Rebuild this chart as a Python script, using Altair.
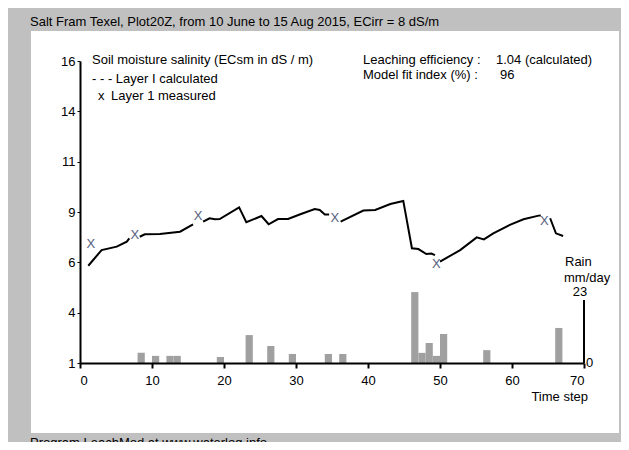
import altair as alt
import pandas as pd

FONT = "Liberation Sans"

TITLE = "Salt Fram Texel, Plot20Z, from 10 June to 15 Aug 2015, ECirr = 8 dS/m"
FOOTER = "Program LeachMod at www.waterlog.info"

# calculated soil-moisture salinity (ECsm, dS/m), drawn in segments between measurements
calc_seg = [1] * 5 + [2] * 5 + [3] * 15 + [4] * 10 + [5] * 9 + [6] * 3
calc_t = [1.15, 3.0, 5.1, 6.5, 6.85,
          8.3, 9.0, 11.1, 13.9, 15.7,
          17.1, 18.0, 18.75, 19.4, 22.1, 23.1, 25.2, 26.2, 27.5, 28.9, 30.6, 32.6, 33.3, 34.0, 34.6,
          36.2, 39.35, 41.0, 43.1, 44.9, 46.1, 47.0, 48.1, 48.8, 49.3,
          50.0, 52.8, 55.1, 56.1, 57.4, 59.7, 61.6, 63.7, 64.0,
          65.3, 66.1, 67.1]
calc_v = [5.83, 6.61, 6.78, 7.03, 7.19,
          7.27, 7.39, 7.41, 7.52, 7.89,
          8.02, 8.19, 8.14, 8.15, 8.73, 7.99, 8.30, 7.89, 8.15, 8.15, 8.39, 8.65, 8.60, 8.38, 8.38,
          8.02, 8.57, 8.60, 8.90, 9.05, 6.70, 6.66, 6.41, 6.44, 6.36,
          6.03, 6.61, 7.24, 7.14, 7.44, 7.86, 8.14, 8.32, 8.33,
          8.19, 7.44, 7.31]

# measured values (X marks)
meas_t = [1.5, 7.6, 16.4, 35.4, 49.5, 64.5]
meas_v = [6.9, 7.35, 8.3, 8.2, 5.92, 8.05]

# rain (mm/day) per time step
rain_t = [8, 10, 12, 13, 19, 23, 26, 29, 34, 36, 46, 47, 48, 49, 50, 56, 66]
rain_mm = [3.7, 2.6, 2.6, 2.6, 2.2, 10.2, 6.2, 3.3, 3.3, 3.3, 25.9, 3.7, 7.3, 2.6, 10.6, 4.7, 12.8]

x_ticks = [0, 10, 20, 30, 40, 50, 60, 70]
y_ticks = [1, 3.5, 6, 8.5, 11, 13.5, 16]
rain_axis = [0, 23]

calc_df = pd.DataFrame({"t": calc_t, "v": calc_v, "seg": calc_seg})
meas_df = pd.DataFrame({"t": meas_t, "v": meas_v})
rain_df = pd.DataFrame({"t": rain_t, "mm": rain_mm})
rain_df["t1"] = rain_df["t"] + 1
rain_df["base"] = 0
raxis_df = pd.DataFrame({"t": [70], "r0": [rain_axis[0]], "r1": [rain_axis[1]]})

xs = alt.Scale(domain=[0, 70], nice=False, zero=False)
ys = alt.Scale(domain=[1, 16], nice=False, zero=False)
rs = alt.Scale(domain=[0, 110.3], nice=False)

one = pd.DataFrame({"a": [0]})


def label(txt, x, y, align="left", size=13, color="black"):
    return alt.Chart(one).mark_text(
        text=txt, align=align, baseline="middle", fontSize=size, color=color, font=FONT
    ).encode(x=alt.value(x), y=alt.value(y))


panel = alt.Chart(one).mark_rect(color="white").encode(
    x=alt.value(-49), x2=alt.value(539), y=alt.value(-30), y2=alt.value(372)
)

bars = alt.Chart(rain_df).mark_rect(color="#a0a0a0").encode(
    x=alt.X("t:Q", scale=xs, axis=None),
    x2="t1:Q",
    y=alt.Y("mm:Q", scale=rs, axis=None),
    y2="base:Q",
)

line = alt.Chart(calc_df).mark_line(color="black", strokeWidth=2).encode(
    x=alt.X("t:Q", scale=xs, axis=alt.Axis(
        values=x_ticks, title=None, grid=False, domainColor="black", domainWidth=2,
        tickColor="black", tickSize=5, tickWidth=2, labelPadding=6, labelFontSize=13,
        labelColor="black", labelFont=FONT, format="d", zindex=2)),
    y=alt.Y("v:Q", scale=ys, axis=alt.Axis(
        values=y_ticks, title=None, grid=False, domainColor="black", domainWidth=2,
        tickColor="black", tickSize=3, tickWidth=1, labelPadding=2, labelFontSize=13,
        labelColor="black", labelFont=FONT, labelExpr="round(datum.value)", zindex=2)),
    detail="seg:N",
)

marks = alt.Chart(meas_df).mark_text(
    text="X", fontSize=13, color="#56607e", font=FONT, baseline="middle"
).encode(
    x=alt.X("t:Q", scale=xs, axis=None),
    y=alt.Y("v:Q", scale=ys, axis=None),
)

raxis = alt.Chart(raxis_df).mark_rule(color="black", strokeWidth=2).encode(
    x=alt.X("t:Q", scale=xs, axis=None),
    y=alt.Y("r0:Q", scale=rs, axis=None),
    y2="r1:Q",
)

texts = [
    label(TITLE, -50, -39),
    label("Soil moisture salinity (ECsm in dS / m)", 12, -1),
    label("- - - Layer I calculated", 12, 18),
    label("x", 18, 35),
    label("Layer 1 measured", 31, 35),
    label("Leaching efficiency :", 283, -1),
    label("1.04 (calculated)", 416, -1),
    label("Model fit index (%)  :", 283, 14),
    label("96", 420, 14),
    label("Rain", 485, 201),
    label("mm/day", 484, 217),
    label("23", 500, 231, align="center"),
    label("0", 506, 302),
    label("Time step", 508, 336, align="right"),
    alt.Chart(one).mark_text(
        text=FOOTER, align="left", baseline="top", fontSize=13, color="black", font=FONT
    ).encode(x=alt.value(-50), y=alt.value(376)),
]

chart = alt.layer(panel, bars, line, marks, raxis, *texts).resolve_scale(
    x="independent", y="independent"
).properties(
    width=504,
    height=302,
    autosize=alt.AutoSizeParams(type="none"),
    padding={"left": 72, "top": 53, "right": 37, "bottom": 79},
    background="#c0c0c0",
).configure_view(stroke=None)

chart.save("out.html", embed_options={"renderer": "svg", "actions": False})
